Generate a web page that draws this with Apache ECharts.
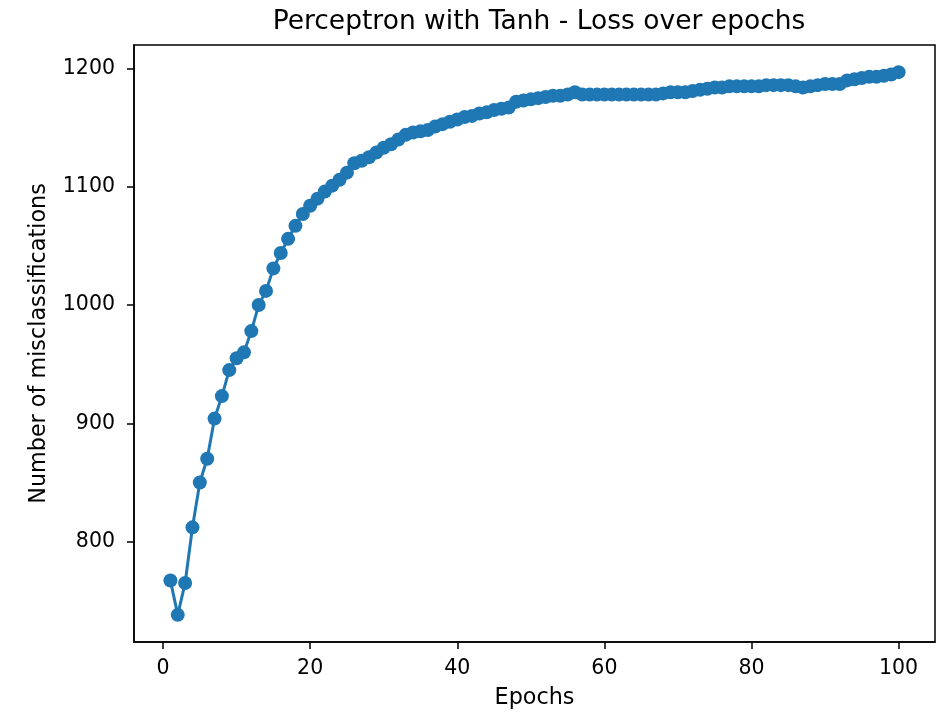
<!DOCTYPE html>
<html>
<head>
<meta charset="utf-8">
<script src="https://cdn.jsdelivr.net/npm/echarts@6/dist/echarts.min.js"></script>
<style>
html,body{margin:0;padding:0;background:#fff;}
#chart{width:943px;height:714px;}
</style>
</head>
<body>
<div id="chart"></div>
<script>
const title = "Perceptron with Tanh - Loss over epochs";
const xLabel = "Epochs";
const yLabel = "Number of misclassifications";
const xTicks = [0, 20, 40, 60, 80, 100];
const yTicks = [800, 900, 1000, 1100, 1200];
const epochs = Array.from({length: 100}, (_, i) => i + 1);
const misclassifications = [
  767, 738, 765, 812, 850, 870, 904, 923, 945, 955,
  960, 978, 1000, 1012, 1031, 1044, 1056, 1067, 1077, 1084,
  1090, 1096, 1101, 1106, 1112, 1120, 1122, 1125, 1129, 1133,
  1136, 1140, 1144, 1146, 1147, 1148, 1151, 1153, 1155, 1157,
  1159, 1160, 1162, 1163, 1165, 1166, 1167, 1172, 1173, 1174,
  1175, 1176, 1177, 1177, 1178, 1180, 1178, 1178, 1178, 1178,
  1178, 1178, 1178, 1178, 1178, 1178, 1178, 1179, 1180, 1180,
  1180, 1181, 1182, 1183, 1184, 1184, 1185, 1185, 1185, 1185,
  1185, 1186, 1186, 1186, 1186, 1185, 1184, 1185, 1186, 1187,
  1187, 1187, 1190, 1191, 1192, 1193, 1193, 1194, 1195, 1197
];

const xMinD = Math.min(...epochs), xMaxD = Math.max(...epochs);
const yMinD = Math.min(...misclassifications), yMaxD = Math.max(...misclassifications);
const xm = (xMaxD - xMinD) * 0.05, ym = (yMaxD - yMinD) * 0.05;

const font = "DejaVu Sans";
const chart = echarts.init(document.getElementById('chart'), null, {renderer: 'canvas'});
chart.setOption({
  backgroundColor: '#fff',
  animation: false,
  title: {
    text: title, left: 534, top: 4, textAlign: 'center',
    textStyle: {fontFamily: font, fontSize: 26.5, fontWeight: 'normal', color: '#000'}
  },
  grid: {left: 134, right: 8, top: 45, bottom: 72, show: true, borderColor: '#000', borderWidth: 1.5, backgroundColor: 'transparent'},
  xAxis: {
    type: 'value', min: xMinD - xm, max: xMaxD + xm,
    name: xLabel, nameLocation: 'middle', nameGap: 45,
    nameTextStyle: {fontFamily: font, fontSize: 22.3, color: '#000'},
    axisLine: {show: true, onZero: false, lineStyle: {color: '#000', width: 1.5}},
    axisTick: {show: true, length: 7, customValues: xTicks, lineStyle: {color: '#000', width: 1.5}},
    axisLabel: {customValues: xTicks, margin: 16, fontFamily: font, fontSize: 20.5, color: '#000',
      formatter: v => String(v)},
    splitLine: {show: false}
  },
  yAxis: {
    type: 'value', min: yMinD - ym, max: yMaxD + ym,
    name: yLabel, nameLocation: 'middle', nameGap: 84,
    nameTextStyle: {fontFamily: font, fontSize: 22.3, color: '#000'},
    axisLine: {show: true, onZero: false, lineStyle: {color: '#000', width: 1.5}},
    axisTick: {show: true, length: 7, customValues: yTicks, lineStyle: {color: '#000', width: 1.5}},
    axisLabel: {customValues: yTicks, margin: 19, fontFamily: font, fontSize: 20.5, color: '#000',
      formatter: v => String(v)},
    splitLine: {show: false}
  },
  series: [{
    type: 'line',
    data: epochs.map((e, i) => [e, misclassifications[i]]),
    symbol: 'circle', symbolSize: 14, showAllSymbol: true,
    lineStyle: {color: '#1f77b4', width: 3},
    itemStyle: {color: '#1f77b4', borderWidth: 0},
    clip: false
  }]
});
</script>
</body>
</html>
